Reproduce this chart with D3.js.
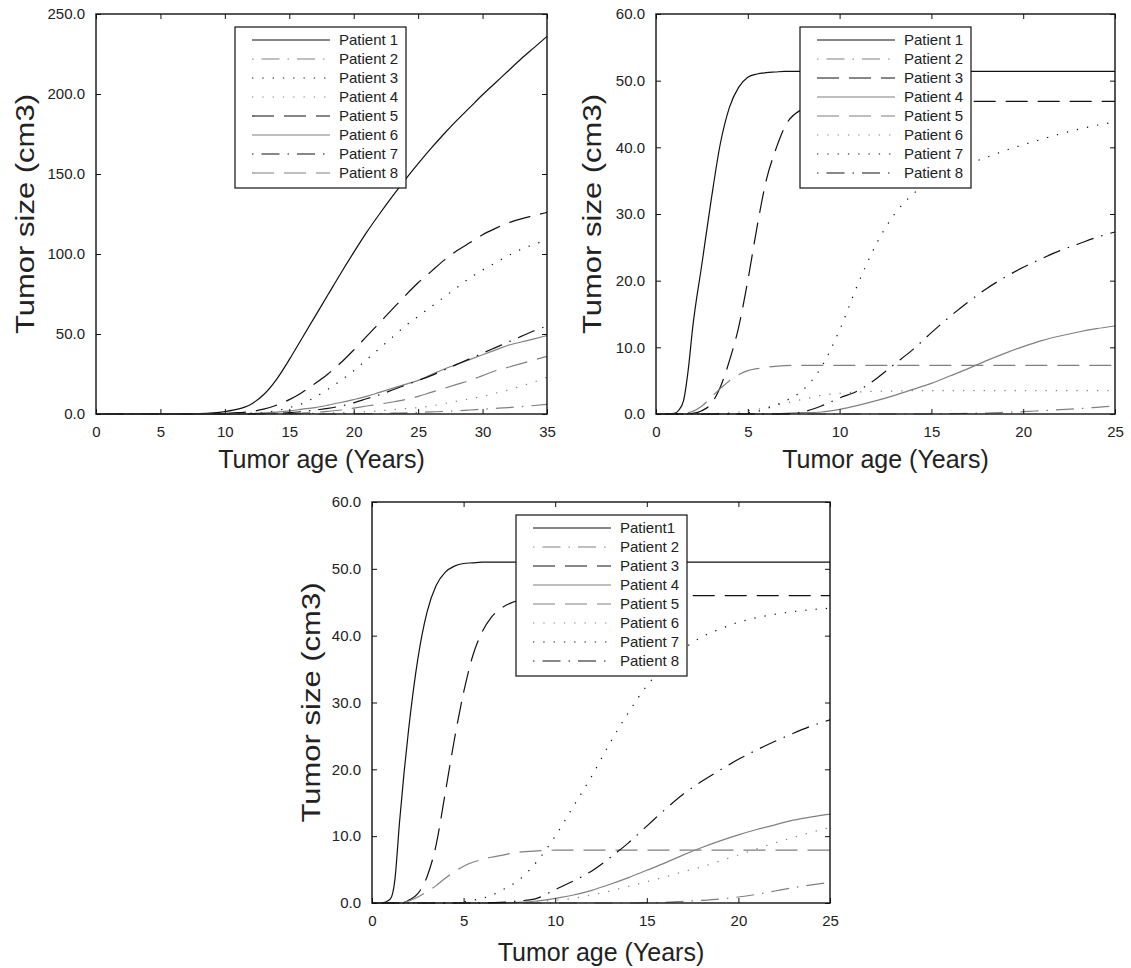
<!DOCTYPE html>
<html>
<head>
<meta charset="utf-8">
<title>Tumor size vs tumor age</title>
<script src="https://d3js.org/d3.v7.min.js"></script>
<style>
  body { margin: 0; background: #fff; }
  svg text { font-family: "Liberation Sans", Arial, sans-serif; fill: #222; }
</style>
</head>
<body>
<div id="chart"></div>
<script>
// x values (tumor age, years)
const agesLong = [0,5,8,10,11,12,13,14,15,16,17,18,19,20,21,22,23,24,25,26,27,28,29,30,31,32,33,34,35];
const agesShort = [0,0.5,1,1.25,1.5,1.75,2,2.5,3,3.5,4,4.5,5,5.5,6,6.5,7,
  8,9,10,11,12,13,14,15,16,17,18,19,20,21,22,23,24,25];

// tick labels
const xTicksLong = [0,5,10,15,20,25,30,35];
const xTicksShort = [0,5,10,15,20,25];
const yTicksA = [0,50,100,150,200,250];
const yTicksBC = [0,10,20,30,40,50,60];

const labelsAB = ["Patient 1","Patient 2","Patient 3","Patient 4","Patient 5","Patient 6","Patient 7","Patient 8"];
const labelsC = ["Patient1","Patient 2","Patient 3","Patient 4","Patient 5","Patient 6","Patient 7","Patient 8"];

// panel A (top left), tumor size cm3 at agesLong
const a1 = [0,0,0.3,1.5,3,6,12,21.5,34,47.5, 61,74.5,88,101,113.5,125,136,146.5,156.5,166, 175,183.5,191.5,199.5,207,214.5,222,229,236];
const a2 = [0,0,0,0,0,0,0,0,0,0, 0,0,0,0.1,0.2,0.3,0.5,0.7,1,1.3, 1.6,2,2.5,3,3.5,4,4.6,5.3,6];
const a3 = [0,0,0,0.1,0.3,0.5,1,2,4,6.5, 10.5,15.5,21,27,34,41,48,55,61,67, 73,79,85,90,94.5,99,103,106,109];
const a4 = [0,0,0,0,0,0,0,0,0.1,0.2, 0.4,0.6,0.8,1,1.5,2,2.7,3.4,4,5, 6.5,8,9.5,11,13,15,17.5,20,23];
const a5 = [0,0,0,0.3,0.8,1.5,3,5.5,9,13.5, 19,25,32,40,48.5,57,65.5,74,82,89, 96,102,107,112,116,119.5,122,124,126];
const a6 = [0,0,0,0,0.1,0.3,0.7,1.2,2,3, 4,5.5,7.2,9,11,13.5,16,18.5,21,24.5, 28,31,34,37,40,43,45,47,49];
const a7 = [0,0,0,0,0,0,0.2,0.5,0.8,1.5, 2.5,3.5,5,7,9.5,12,15,18,21,24, 27.5,31,34.5,38,41.5,45,48.5,52,55];
const a8 = [0,0,0,0,0,0,0.1,0.2,0.3,0.6, 1,1.7,2.5,3.7,5,6.2,7.5,9,11,13.5, 16,18.5,21,24,27,29.2,31.5,33.8,36];

// panel B (top right), at agesShort
const b1 = [0,0,0.1,0.6,2,6.5,13,22.5,32,40.5, 46,49,50.5,51,51.2,51.3,51.4,
  51.4,51.4,51.4,51.4,51.4,51.4,51.4,51.4,51.4,51.4,51.4,51.4,51.4,51.4,51.4,51.4,51.4,51.4];
const b2 = [0,0,0,0,0,0,0,0,0,0, 0,0,0,0,0,0,0,
  0,0,0,0,0,0,0,0,0.05,0.1,0.15,0.25,0.35,0.5,0.65,0.8,1,1.2];
const b3 = [0,0,0,0,0,0.05,0.1,0.5,1.5,4, 8,13,20,28,35,39.5,43,
  45.8,46.7,46.9,46.9,46.9,46.9,46.9,46.9,46.9,46.9,46.9,46.9,46.9,46.9,46.9,46.9,46.9,46.9];
const b4 = [0,0,0,0,0,0,0,0,0,0, 0,0,0,0,0,0,0.1,
  0.2,0.3,0.7,1.3,2,2.8,3.7,4.6,5.7,6.8,8,9.1,10.1,11,11.7,12.3,12.8,13.2];
const b5 = [0,0,0,0,0.1,0.2,0.4,1.2,2.5,3.8, 5,5.9,6.5,6.8,7,7.15,7.25,
  7.3,7.3,7.3,7.3,7.3,7.3,7.3,7.3,7.3,7.3,7.3,7.3,7.3,7.3,7.3,7.3,7.3,7.3];
const b6 = [0,0,0,0,0,0,0,0,0.05,0.1, 0.2,0.3,0.5,0.7,1,1.3,1.6,
  2.2,2.8,3.1,3.3,3.4,3.45,3.5,3.5,3.5,3.5,3.5,3.5,3.5,3.5,3.5,3.5,3.5,3.5];
const b7 = [0,0,0,0,0,0,0,0,0,0, 0,0.05,0.2,0.4,0.8,1.3,1.9,
  3.6,7,12.6,19.5,25.5,30,33,35,36.5,37.5,38.5,39.5,40.4,41.2,42,42.7,43.3,43.8];
const b8 = [0,0,0,0,0,0,0,0,0,0, 0,0,0,0,0,0,0,
  0.3,1.2,2.4,3.5,5.3,7.5,9.7,12.2,14.6,16.8,18.8,20.5,22,23.3,24.5,25.5,26.5,27.3];

// panel C (bottom), at agesShort
const c1 = [0,0,0.6,3.5,12,19.5,26,36.5,43.5,47.5, 49.5,50.4,50.8,50.9,51,51,51,
  51,51,51,51,51,51,51,51,51,51,51,51,51,51,51,51,51,51];
const c2 = [0,0,0,0,0,0,0,0,0,0, 0,0,0,0,0,0,0,
  0,0,0,0,0,0,0,0.05,0.1,0.25,0.4,0.6,0.9,1.3,1.8,2.3,2.7,3.1];
const c3 = [0,0,0,0,0,0.05,0.4,1.4,3.9,8.7, 16.5,24.5,31.5,37,40.5,42.7,44,
  45.3,45.8,46,46,46,46,46,46,46,46,46,46,46,46,46,46,46,46];
const c4 = [0,0,0,0,0,0,0,0,0,0, 0,0,0,0,0,0,0,
  0.1,0.3,0.7,1.2,1.9,2.8,3.8,4.9,6,7.2,8.3,9.3,10.2,11,11.7,12.4,12.9,13.3];
const c5 = [0,0,0,0,0.05,0.15,0.3,0.9,1.7,2.6, 3.7,4.7,5.5,6.1,6.5,6.85,7.1,
  7.6,7.8,7.9,7.9,7.9,7.9,7.9,7.9,7.9,7.9,7.9,7.9,7.9,7.9,7.9,7.9,7.9,7.9];
const c6 = [0,0,0,0,0,0,0,0,0,0, 0,0,0,0,0,0,0,
  0,0.2,0.4,0.7,1.2,1.8,2.5,3.2,3.9,4.7,5.4,6.3,7.2,8.1,9,9.8,10.6,11.3];
const c7 = [0,0,0,0,0,0,0,0,0,0, 0,0.05,0.2,0.4,0.7,1.1,1.8,
  3.4,6.2,10,14.5,19,24,28.5,32.5,35.5,38,39.8,41,42,42.7,43.2,43.6,43.9,44.1];
const c8 = [0,0,0,0,0,0,0,0,0,0, 0,0,0,0,0,0.05,0.1,
  0.3,0.7,2,3.3,4.8,6.8,9,11.5,14,16.3,18.2,19.9,21.5,22.9,24.2,25.4,26.5,27.4];

// line styles
const BLACK = "#111", GRAY = "#808080";
const DASH = "22,10", DOT = "1.3,9", DASHDOT = "1.5,8,18,8";
const st = {
  solidK: { c: BLACK, d: null },  solidG: { c: GRAY, d: null },
  dashK:  { c: BLACK, d: DASH },  dashG:  { c: GRAY, d: DASH },
  dotK:   { c: BLACK, d: DOT },   dotG:   { c: GRAY, d: DOT },
  ddK:    { c: BLACK, d: DASHDOT }, ddG:  { c: GRAY, d: DASHDOT }
};
const stylesA = [st.solidK, st.ddG, st.dotK, st.dotG, st.dashK, st.solidG, st.ddK, st.dashG];
const stylesBC = [st.solidK, st.ddG, st.dashK, st.solidG, st.dashG, st.dotG, st.dotK, st.ddK];

const svg = d3.select("#chart").append("svg")
  .attr("width", 1131).attr("height", 968);

const panels = [
  { left: 96, right: 547, top: 14, bottom: 414, xMax: 35, yMax: 250,
    ages: agesLong, xTicks: xTicksLong, yTicks: yTicksA,
    series: [a1,a2,a3,a4,a5,a6,a7,a8], styles: stylesA, labels: labelsAB,
    legend: { x: 235, y: 27 }, yTitleX: 34, xTitleY: 468 },
  { left: 656, right: 1115, top: 14, bottom: 414, xMax: 25, yMax: 60,
    ages: agesShort, xTicks: xTicksShort, yTicks: yTicksBC,
    series: [b1,b2,b3,b4,b5,b6,b7,b8], styles: stylesBC, labels: labelsAB,
    legend: { x: 800, y: 27 }, yTitleX: 601, xTitleY: 468 },
  { left: 372, right: 830, top: 502, bottom: 903, xMax: 25, yMax: 60,
    ages: agesShort, xTicks: xTicksShort, yTicks: yTicksBC,
    series: [c1,c2,c3,c4,c5,c6,c7,c8], styles: stylesBC, labels: labelsC,
    legend: { x: 516, y: 515 }, yTitleX: 320, xTitleY: 961 }
];

function styleAxis(g) {
  g.select(".domain").remove();
  g.selectAll(".tick line").attr("stroke", "#111").attr("stroke-width", 1);
  g.selectAll("text").attr("font-size", 15).attr("fill", "#222")
    .attr("font-family", '"Liberation Sans", Arial, sans-serif');
}

panels.forEach(p => {
  const x = d3.scaleLinear().domain([0, p.xMax]).range([p.left, p.right]);
  const y = d3.scaleLinear().domain([0, p.yMax]).range([p.bottom, p.top]);
  const g = svg.append("g");

  const line = d3.line()
    .x(d => x(d[0]))
    .y(d => y(d[1]))
    .curve(d3.curveMonotoneX);

  // curves
  p.series.forEach((vals, i) => {
    const pts = p.ages.map((a, j) => [a, vals[j]]).filter(d => d[1] !== undefined);
    g.append("path")
      .datum(pts)
      .attr("d", line)
      .attr("fill", "none")
      .attr("stroke", p.styles[i].c)
      .attr("stroke-width", 1.2)
      .attr("stroke-dasharray", p.styles[i].d);
  });

  // axes, ticks pointing inwards on all four sides
  g.append("g").attr("transform", `translate(0,${p.bottom})`)
    .call(d3.axisBottom(x).tickValues(p.xTicks).tickSize(-5).tickPadding(12))
    .call(styleAxis);
  g.append("g").attr("transform", `translate(0,${p.top})`)
    .call(d3.axisTop(x).tickValues(p.xTicks).tickSize(-5).tickFormat(""))
    .call(styleAxis);
  g.append("g").attr("transform", `translate(${p.left},0)`)
    .call(d3.axisLeft(y).tickValues(p.yTicks).tickSize(-5).tickPadding(11).tickFormat(d3.format(".1f")))
    .call(styleAxis);
  g.append("g").attr("transform", `translate(${p.right},0)`)
    .call(d3.axisRight(y).tickValues(p.yTicks).tickSize(-5).tickFormat(""))
    .call(styleAxis);

  g.append("rect")
    .attr("x", p.left).attr("y", p.top)
    .attr("width", p.right - p.left).attr("height", p.bottom - p.top)
    .attr("fill", "none").attr("stroke", "#111").attr("stroke-width", 1.4);

  // titles
  g.append("text")
    .attr("x", (p.left + p.right) / 2).attr("y", p.xTitleY)
    .attr("text-anchor", "middle").attr("font-size", 25)
    .text("Tumor age (Years)");
  g.append("text")
    .attr("transform", `translate(${p.yTitleX},${(p.top + p.bottom) / 2}) rotate(-90)`)
    .attr("text-anchor", "middle").attr("font-size", 25)
    .attr("textLength", 240).attr("lengthAdjust", "spacingAndGlyphs")
    .text("Tumor size (cm3)");

  // legend
  const lg = g.append("g").attr("transform", `translate(${p.legend.x},${p.legend.y})`);
  lg.append("rect")
    .attr("width", 171).attr("height", 161)
    .attr("fill", "#fff").attr("stroke", "#111").attr("stroke-width", 1.2);
  p.labels.forEach((lab, i) => {
    const ly = 13 + i * 19;
    lg.append("line")
      .attr("x1", 17).attr("x2", 95).attr("y1", ly).attr("y2", ly)
      .attr("stroke", p.styles[i].c).attr("stroke-width", 1.2)
      .attr("stroke-dasharray", p.styles[i].d);
    lg.append("text")
      .attr("x", 104).attr("y", ly + 5)
      .attr("font-size", 15)
      .text(lab);
  });
});
</script>
</body>
</html>
